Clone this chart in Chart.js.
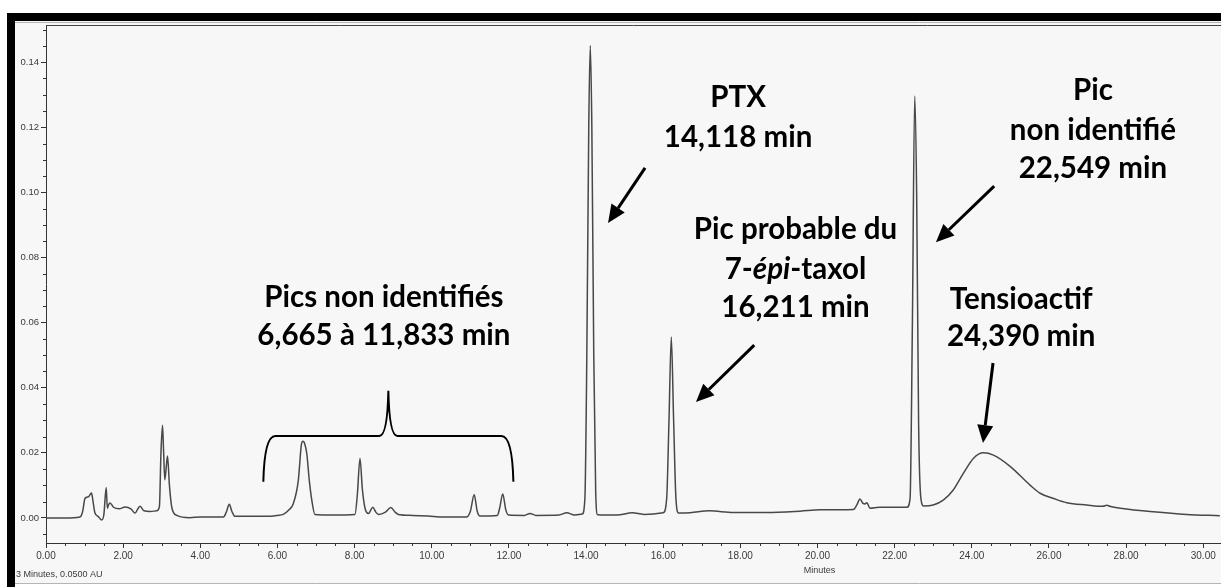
<!DOCTYPE html>
<html><head><meta charset="utf-8">
<script src="https://cdn.jsdelivr.net/npm/chart.js@4.4.1/dist/chart.umd.min.js"></script>
<style>html,body{margin:0;padding:0;background:#fff;overflow:hidden}canvas{display:block}</style>
</head><body>
<canvas id="c" width="1221" height="587"></canvas>
<script>
// ---- data (retention time in minutes, absorbance in AU) ----
const times = [
 0.00,0.50,0.88,0.95,1.01,1.10,1.18,1.22,1.27,1.35,1.44,1.50,1.56,1.59,1.62,1.66,1.75,1.90,2.05,2.20,
 2.31,2.38,2.44,2.54,2.70,2.87,2.94,2.98,3.02,3.05,3.08,3.12,3.15,3.20,3.26,3.39,3.73,4.00,4.60,4.68,
 4.75,4.82,4.90,5.72,6.00,6.15,6.30,6.41,6.54,6.62,6.66,6.70,6.76,6.83,6.89,6.97,7.45,8.01,8.07,8.14,
 8.20,8.27,8.36,8.47,8.55,8.62,8.80,8.94,9.05,9.13,9.50,9.90,10.30,10.90,11.00,11.10,11.18,11.25,11.70,11.76,
 11.84,11.92,11.99,12.40,12.55,12.70,13.30,13.50,13.70,13.90,13.97,14.02,14.07,14.11,14.15,14.20,14.25,14.30,14.80,15.20,
 15.50,16.00,16.09,16.15,16.21,16.27,16.33,16.40,16.70,17.20,17.82,18.68,19.55,20.07,20.93,21.02,21.10,21.18,21.23,21.28,
 21.36,21.60,22.32,22.40,22.46,22.52,22.57,22.62,22.68,22.75,23.00,23.26,23.52,23.78,24.04,24.30,24.56,25.00,25.51,25.77,
 26.12,26.46,26.98,27.40,27.50,27.60,27.85,28.71,29.57,30.43
];
const absorbance = [
 0.0000,0.0000,0.0003,0.0020,0.0060,0.0065,0.0077,0.0050,0.0015,0.0005,-0.0006,0.0010,0.0094,0.0030,0.0040,0.0046,0.0033,0.0028,0.0034,0.0028,
 0.0015,0.0028,0.0036,0.0022,0.0020,0.0022,0.0035,0.0200,0.0285,0.0200,0.0117,0.0160,0.0190,0.0100,0.0033,0.0008,0.0001,0.0003,0.0003,0.0020,
 0.0042,0.0020,0.0005,0.0005,0.0008,0.0011,0.0025,0.0044,0.0115,0.0225,0.0236,0.0230,0.0198,0.0110,0.0055,0.0011,0.0009,0.0011,0.0070,0.0183,
 0.0090,0.0030,0.0014,0.0033,0.0018,0.0011,0.0018,0.0032,0.0018,0.0011,0.0008,0.0006,0.0003,0.0003,0.0020,0.0071,0.0020,0.0006,0.0008,0.0030,
 0.0074,0.0025,0.0009,0.0008,0.0014,0.0008,0.0009,0.0016,0.0009,0.0012,0.0060,0.0500,0.1200,0.1450,0.1200,0.0500,0.0080,0.0010,0.0009,0.0016,
 0.0011,0.0016,0.0060,0.0300,0.0556,0.0300,0.0060,0.0015,0.0016,0.0022,0.0017,0.0017,0.0021,0.0025,0.0026,0.0040,0.0058,0.0045,0.0043,0.0047,
 0.0030,0.0033,0.0033,0.0060,0.0600,0.1296,0.1000,0.0300,0.0060,0.0037,0.0040,0.0055,0.0086,0.0137,0.0183,0.0200,0.0193,0.0158,0.0101,0.0076,
 0.0060,0.0047,0.0040,0.0036,0.0039,0.0035,0.0030,0.0019,0.0011,0.0007
];
const yTickValues = [0.00,0.02,0.04,0.06,0.08,0.10,0.12,0.14];
const xTickValues = [0,2,4,6,8,10,12,14,16,18,20,22,24,26,28,30];
const xTitle = 'Minutes';
const footnote = '3 Minutes, 0.0500 AU';

// ---- annotations (anchored in data units: minutes / AU) ----
const labelBlocks = [
  {x: 8.76,  lines: [{t:'Pics non identifiés', y:0.0649}, {t:'6,665 à 11,833 min', y:0.0531}]},
  {x: 17.94, lines: [{t:'PTX', y:0.1262}, {t:'14,118 min', y:0.1140}]},
  {x: 19.43, lines: [{t:'Pic probable du', y:0.0857}, {parts:[['7-',''],['épi','italic '],['-taxol','']], y:0.0734}, {t:'16,211 min', y:0.0618}]},
  {x: 27.14, lines: [{t:'Pic', y:0.1283}, {t:'non identifié', y:0.1161}, {t:'22,549 min', y:0.1045}]},
  {x: 25.28, lines: [{t:'Tensioactif', y:0.0642}, {t:'24,390 min', y:0.0528}]}
];
const arrows = [
  {from:[15.53,0.1075], to:[14.57,0.0906]},
  {from:[18.36,0.0531], to:[16.85,0.0356]},
  {from:[24.58,0.1019], to:[23.07,0.0847]},
  {from:[24.55,0.0476], to:[24.29,0.0230]}
];
const brace = {left:5.634, right:12.116, peak:8.875, bottom:0.0111, bar:0.0252, top:0.0391};

const TXT_FONT = '"Lato", "Open Sans", sans-serif';
const TXT_SIZE = 29.5;

const framePlugin = {
  id:'frame',
  beforeDraw(chart){
    const c = chart.ctx, W = chart.width, H = chart.height, a = chart.chartArea;
    c.save();
    c.fillStyle = '#ffffff'; c.fillRect(0,0,W,H);
    c.fillStyle = '#f7f7f7'; c.fillRect(7,13,W-7,570);
    c.fillStyle = '#000'; c.fillRect(7,13,W-7,8); c.fillRect(7,13,8,H-13);
    c.strokeStyle = '#b5b5b5'; c.lineWidth = 1;
    c.beginPath(); c.moveTo(15,22.5); c.lineTo(W,22.5); c.stroke();
    c.beginPath(); c.moveTo(15,583.5); c.lineTo(W,583.5); c.stroke();
    c.strokeStyle = '#444'; c.beginPath(); c.moveTo(a.left,a.top+0.5); c.lineTo(a.right,a.top+0.5); c.stroke();
    c.restore();
  }
};

function arrow(c, x1,y1,x2,y2){
  const ang = Math.atan2(y2-y1,x2-x1), L = 18, hw = 8;
  const bx = x2 - L*Math.cos(ang), by = y2 - L*Math.sin(ang);
  c.beginPath(); c.moveTo(x1,y1); c.lineTo(bx,by); c.lineWidth = 3; c.stroke();
  c.beginPath(); c.moveTo(x2,y2);
  c.lineTo(bx + hw*Math.sin(ang), by - hw*Math.cos(ang));
  c.lineTo(bx - hw*Math.sin(ang), by + hw*Math.cos(ang));
  c.closePath(); c.fill();
}

const annotPlugin = {
  id:'annot',
  afterDraw(chart){
    const c = chart.ctx, xs = chart.scales.x, ys = chart.scales.y, a = chart.chartArea;
    c.save();
    // minor ticks
    c.strokeStyle = '#333'; c.lineWidth = 1;
    for (let v = -0.005; v < ys.max; v += 0.005){
      const r = Math.round(v*1000)/1000;
      if (Math.abs(r/0.02 - Math.round(r/0.02)) < 1e-6) continue;
      const p = Math.round(ys.getPixelForValue(r))+0.5;
      c.beginPath(); c.moveTo(a.left-3,p); c.lineTo(a.left,p); c.stroke();
    }
    for (let v = 0.5; v < xs.max; v += 0.5){
      if (Math.abs(v/2 - Math.round(v/2)) < 1e-6) continue;
      const p = Math.round(xs.getPixelForValue(v))+0.5;
      c.beginPath(); c.moveTo(p,a.bottom); c.lineTo(p,a.bottom+3); c.stroke();
    }
    // small axis texts
    c.fillStyle = '#3a3a3a'; c.font = '9px "Liberation Sans", Arial, sans-serif';
    c.textAlign = 'center'; c.textBaseline = 'middle';
    c.fillText(xTitle, xs.getPixelForValue(20.0)+2, 571);
    c.textAlign = 'left';
    c.fillText(footnote, 16, 575);
    // labels
    c.fillStyle = '#000'; c.textBaseline = 'alphabetic';
    for (const b of labelBlocks){
      const cx = xs.getPixelForValue(b.x);
      for (const ln of b.lines){
        const py = ys.getPixelForValue(ln.y);
        if (ln.t){
          c.font = `bold ${TXT_SIZE}px ${TXT_FONT}`; c.textAlign = 'center';
          c.fillText(ln.t, cx, py);
        } else {
          let w = 0;
          for (const [s,st] of ln.parts){ c.font = `${st}bold ${TXT_SIZE}px ${TXT_FONT}`; w += c.measureText(s).width; }
          let x = cx - w/2; c.textAlign = 'left';
          for (const [s,st] of ln.parts){ c.font = `${st}bold ${TXT_SIZE}px ${TXT_FONT}`; c.fillText(s, x, py); x += c.measureText(s).width; }
        }
      }
    }
    // arrows
    c.strokeStyle = '#000'; c.fillStyle = '#000';
    for (const ar of arrows){
      arrow(c, xs.getPixelForValue(ar.from[0]), ys.getPixelForValue(ar.from[1]),
               xs.getPixelForValue(ar.to[0]), ys.getPixelForValue(ar.to[1]));
    }
    // brace
    const L = xs.getPixelForValue(brace.left), R = xs.getPixelForValue(brace.right), P = xs.getPixelForValue(brace.peak);
    const B = ys.getPixelForValue(brace.bottom), H = ys.getPixelForValue(brace.bar), T = ys.getPixelForValue(brace.top);
    c.lineWidth = 2; c.beginPath();
    c.moveTo(L,B); c.quadraticCurveTo(L+1,H,L+12,H); c.lineTo(P-9,H);
    c.quadraticCurveTo(P-1,H,P,T); c.quadraticCurveTo(P+1,H,P+9,H);
    c.lineTo(R-12,H); c.quadraticCurveTo(R-1,H,R,B); c.stroke();
    c.restore();
  }
};

new Chart(document.getElementById('c'), {
  type:'line',
  data:{datasets:[{
    data: times.map((t,i)=>({x:t, y:absorbance[i]})),
    borderColor:'#484848', borderWidth:1.5, pointRadius:0, fill:false,
    cubicInterpolationMode:'monotone'
  }]},
  options:{
    responsive:false, animation:false, devicePixelRatio:1,
    layout:{padding:{top:25, left:0, right:0, bottom:0}},
    plugins:{legend:{display:false}, tooltip:{enabled:false}},
    scales:{
      x:{type:'linear', min:0, max:30.46,
        afterFit(s){ s.height = 44; },
        afterBuildTicks(s){ s.ticks = xTickValues.map(v=>({value:v})); },
        ticks:{callback:v=>Number(v).toFixed(2), autoSkip:false, maxRotation:0,
          font:{family:'"Liberation Sans", Arial, sans-serif', size:10}, color:'#3a3a3a', padding:2},
        grid:{drawOnChartArea:false, tickLength:5, color:'#333', tickColor:'#333'},
        border:{color:'#333', width:1}},
      y:{type:'linear', min:-0.00768, max:0.1514,
        afterFit(s){ s.width = 46; },
        afterBuildTicks(s){ s.ticks = yTickValues.map(v=>({value:v})); },
        ticks:{callback:v=>Number(v).toFixed(2),
          font:{family:'"Liberation Sans", Arial, sans-serif', size:9.5}, color:'#3a3a3a', padding:2},
        grid:{drawOnChartArea:false, tickLength:5, color:'#333', tickColor:'#333'},
        border:{color:'#333', width:1}}
    }
  },
  plugins:[framePlugin, annotPlugin]
});
</script>
</body></html>
